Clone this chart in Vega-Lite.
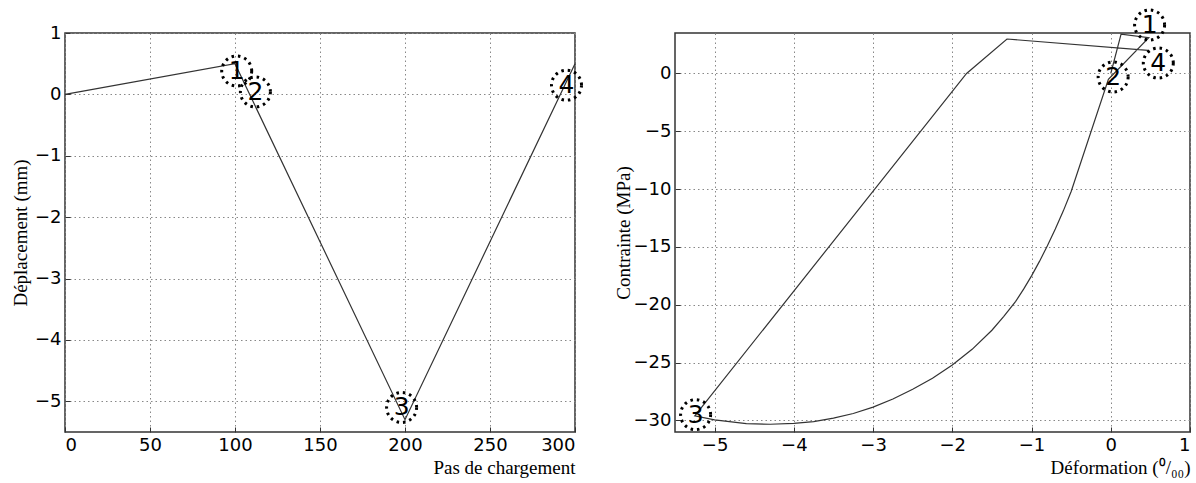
{
  "$schema": "https://vega.github.io/schema/vega-lite/v6.json",
  "background": "white",
  "padding": {"left": 10, "top": 3, "right": 5, "bottom": 5},
  "bounds": "flush",
  "spacing": 100,
  "config": {
    "view": {"stroke": "#333", "strokeWidth": 1.5},
    "axis": {
      "domain": false,
      "grid": true,
      "gridColor": "#888",
      "gridDash": [1.5, 3],
      "gridWidth": 1,
      "tickSize": -5,
      "tickColor": "#333",
      "labelPadding": 9,
      "labelFont": "DejaVu Sans",
      "labelFontSize": 18,
      "labelColor": "black",
      "format": "d",
      "titleFont": "Liberation Serif",
      "titleFontSize": 19,
      "titleFontWeight": "normal",
      "titleColor": "black"
    }
  },
  "datasets": {
    "disp": [
      {"step": 0, "d": 0},
      {"step": 100, "d": 0.5},
      {"step": 200, "d": -5.3},
      {"step": 300, "d": 0.5}
    ],
    "dispLabels": [
      {"step": 101, "d": 0.38, "lab": "1"},
      {"step": 112, "d": 0.04, "lab": "2"},
      {"step": 198, "d": -5.1, "lab": "3"},
      {"step": 295, "d": 0.15, "lab": "4"}
    ],
    "stress": [
      {"i": 0, "e": 0, "s": 0},
      {"i": 1, "e": 0.13, "s": 3.4},
      {"i": 2, "e": 0.48, "s": 3.1},
      {"i": 3, "e": -0.03, "s": -0.5},
      {"i": 4, "e": -0.5, "s": -10.2},
      {"i": 5, "e": -0.6, "s": -11.9},
      {"i": 6, "e": -0.7, "s": -13.45},
      {"i": 7, "e": -0.8, "s": -14.9},
      {"i": 8, "e": -0.9, "s": -16.25},
      {"i": 9, "e": -1.0, "s": -17.5},
      {"i": 10, "e": -1.1, "s": -18.65},
      {"i": 11, "e": -1.2, "s": -19.7},
      {"i": 12, "e": -1.35, "s": -21.0},
      {"i": 13, "e": -1.5, "s": -22.2},
      {"i": 14, "e": -1.75, "s": -23.85},
      {"i": 15, "e": -2.0, "s": -25.2},
      {"i": 16, "e": -2.25, "s": -26.35},
      {"i": 17, "e": -2.5, "s": -27.3},
      {"i": 18, "e": -2.75, "s": -28.15},
      {"i": 19, "e": -3.0, "s": -28.85},
      {"i": 20, "e": -3.25, "s": -29.4},
      {"i": 21, "e": -3.5, "s": -29.8},
      {"i": 22, "e": -3.75, "s": -30.1},
      {"i": 23, "e": -4.0, "s": -30.25},
      {"i": 24, "e": -4.3, "s": -30.33},
      {"i": 25, "e": -4.6, "s": -30.28},
      {"i": 26, "e": -5.0, "s": -29.95},
      {"i": 27, "e": -5.25, "s": -29.6},
      {"i": 28, "e": -1.82, "s": 0},
      {"i": 29, "e": -1.31, "s": 2.98},
      {"i": 30, "e": 0.47, "s": 2.0}
    ],
    "stressLabels": [
      {"e": 0.49, "s": 4.19, "lab": "1"},
      {"e": 0.03, "s": -0.3, "lab": "2"},
      {"e": -5.24, "s": -29.5, "lab": "3"},
      {"e": 0.6, "s": 0.9, "lab": "4"}
    ]
  },
  "hconcat": [
    {
      "width": 510,
      "height": 399,
      "layer": [
        {
          "data": {"name": "disp"},
          "mark": {"type": "line", "color": "#333", "strokeWidth": 1.2},
          "encoding": {
            "x": {"field": "step", "type": "quantitative",
                  "scale": {"domain": [0, 300], "nice": false},
                  "axis": {"values": [0, 50, 100, 150, 200, 250, 300], "title": "Pas de chargement", "titleAnchor": "end", "titlePadding": 4}},
            "y": {"field": "d", "type": "quantitative",
                  "scale": {"domain": [-5.5, 1], "nice": false, "zero": false},
                  "axis": {"values": [-5, -4, -3, -2, -1, 0, 1], "title": "Déplacement (mm)", "titlePadding": 4}}
          }
        },
        {
          "data": {"name": "dispLabels"},
          "mark": {"type": "point", "shape": "circle", "size": 900, "filled": false, "color": "black", "strokeWidth": 3, "strokeDash": [2.5, 4], "opacity": 1},
          "encoding": {
            "x": {"field": "step", "type": "quantitative"},
            "y": {"field": "d", "type": "quantitative"}
          }
        },
        {
          "data": {"name": "dispLabels"},
          "mark": {"type": "text", "font": "DejaVu Sans", "fontSize": 25, "color": "black", "align": "center", "baseline": "middle"},
          "encoding": {
            "x": {"field": "step", "type": "quantitative"},
            "y": {"field": "d", "type": "quantitative"},
            "text": {"field": "lab"}
          }
        }
      ]
    },
    {
      "width": 515,
      "height": 399,
      "layer": [
        {
          "data": {"name": "stress"},
          "mark": {"type": "line", "color": "#333", "strokeWidth": 1.2},
          "encoding": {
            "x": {"field": "e", "type": "quantitative",
                  "scale": {"domain": [-5.5, 1], "nice": false, "zero": false},
                  "axis": {"values": [-5, -4, -3, -2, -1, 0, 1], "title": "Déformation (⁰/₀₀)", "titleAnchor": "end", "titlePadding": 4}},
            "y": {"field": "s", "type": "quantitative",
                  "scale": {"domain": [-31, 3.5], "nice": false, "zero": false},
                  "axis": {"values": [-30, -25, -20, -15, -10, -5, 0], "title": "Contrainte (MPa)", "titlePadding": 0}},
            "order": {"field": "i", "type": "quantitative"}
          }
        },
        {
          "data": {"name": "stressLabels"},
          "mark": {"type": "point", "shape": "circle", "size": 900, "filled": false, "color": "black", "strokeWidth": 3, "strokeDash": [2.5, 4], "opacity": 1},
          "encoding": {
            "x": {"field": "e", "type": "quantitative"},
            "y": {"field": "s", "type": "quantitative"}
          }
        },
        {
          "data": {"name": "stressLabels"},
          "mark": {"type": "text", "font": "DejaVu Sans", "fontSize": 25, "color": "black", "align": "center", "baseline": "middle"},
          "encoding": {
            "x": {"field": "e", "type": "quantitative"},
            "y": {"field": "s", "type": "quantitative"},
            "text": {"field": "lab"}
          }
        }
      ]
    }
  ]
}
